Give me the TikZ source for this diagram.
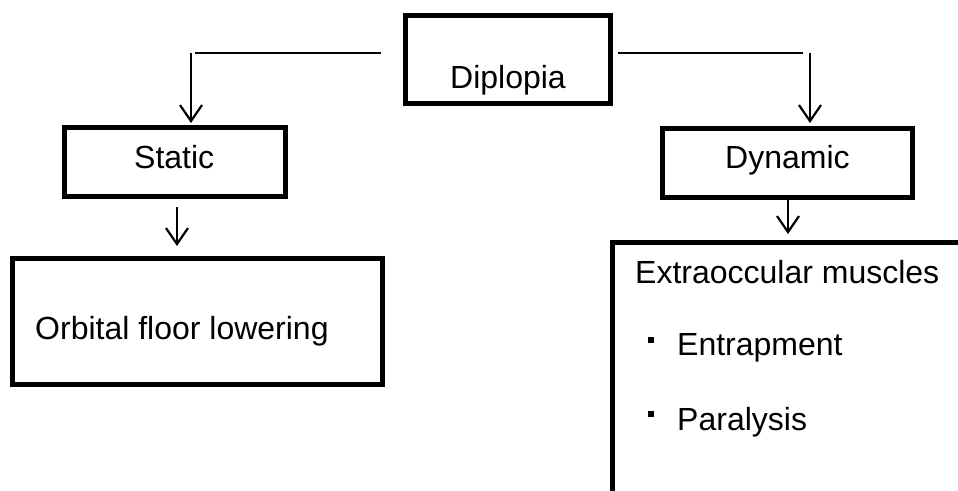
\documentclass[tikz,border=0pt]{standalone}
\usepackage{fontspec}
\setmainfont{Liberation Sans}
\usetikzlibrary{arrows.meta}
\begin{document}
\begin{tikzpicture}[x=1pt,y=-1pt,
  box/.style={draw, line width=5pt, rectangle, inner sep=0pt, outer sep=0pt},
  lbl/.style={inner sep=0pt, anchor=base west, font=\fontsize{32}{38}\selectfont},
  conn/.style={line width=2.2pt},
  arr/.style={conn, -{Straight Barb[length=16pt,width=22pt,line width=2.2pt]}},
  bul/.style={fill, minimum size=6pt, inner sep=0pt}]
\useasboundingbox (0,0) rectangle (958,490);
\clip (0,0) rectangle (958,490);
% boxes
\node[box, minimum width=205pt, minimum height=87.5pt] (dip) at (507.5,59.25) {};
\node[box, minimum width=221pt, minimum height=68.5pt] (stat) at (174.5,161.75) {};
\node[box, minimum width=250pt, minimum height=69pt] (dyn) at (787,162.5) {};
\node[box, minimum width=369.5pt, minimum height=126pt] (orb) at (197.25,321) {};
\node[box, minimum width=400pt, minimum height=300pt, anchor=north west] (ext) at (612.5,242) {};
% texts
\node[lbl] (tdip) at (450,88) {Diplopia};
\node[lbl] (tstat) at (134,168) {Static};
\node[lbl] (tdyn) at (725,168) {Dynamic};
\node[lbl] (torb) at (35,339) {Orbital floor lowering};
\node[lbl] (text) at (635,283) {Extraoccular muscles};
\node[lbl] (tent) at (677,355) {Entrapment};
\node[lbl] (tpar) at (677,430) {Paralysis};
\node[bul] (b1) at (651,340) {};
\node[bul] (b2) at (651,414) {};
% connectors
\coordinate (l0) at (381,53);
\coordinate (l1) at (195,53);
\coordinate (l2) at (191,53);
\coordinate (l3) at (191,123);
\coordinate (r0) at (618,53);
\coordinate (r1) at (803,53);
\coordinate (r2) at (810,53);
\coordinate (r3) at (810,123);
\coordinate (s0) at (177,207);
\coordinate (s1) at (177,246);
\coordinate (d0) at (788,200);
\coordinate (d1) at (788,234);
\draw[conn] (l0) -- (l1);
\draw[arr] (l2) -- (l3);
\draw[conn] (r0) -- (r1);
\draw[arr] (r2) -- (r3);
\draw[arr] (s0) -- (s1);
\draw[arr] (d0) -- (d1);
\end{tikzpicture}
\end{document}
